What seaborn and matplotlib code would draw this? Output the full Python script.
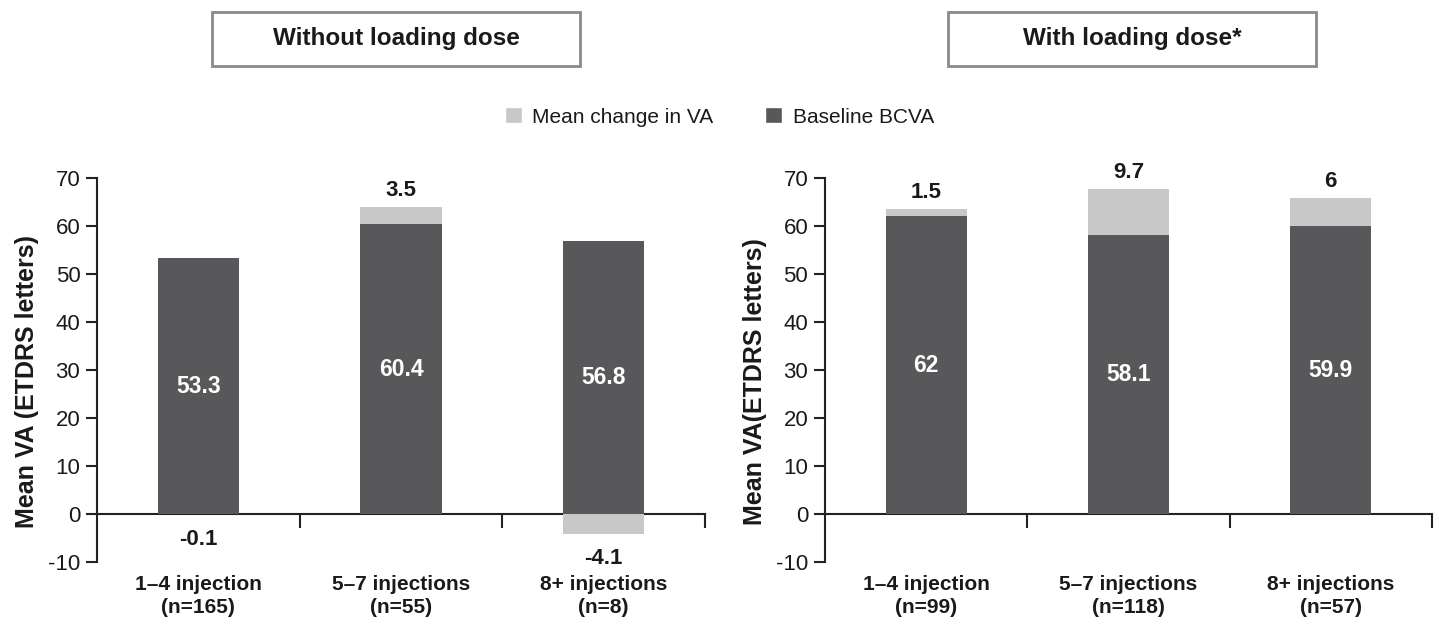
import matplotlib
matplotlib.use('Agg')
import matplotlib.pyplot as plt
from matplotlib.patches import Rectangle, Patch
import seaborn as sns
import pandas as pd

# data
left_labels = ['1–4 injection\n(n=165)', '5–7 injections\n(n=55)', '8+ injections\n(n=8)']
left_baseline = [53.3, 60.4, 56.8]
left_change = [-0.1, 3.5, -4.1]

right_labels = ['1–4 injection\n(n=99)', '5–7 injections\n(n=118)', '8+ injections\n(n=57)']
right_baseline = [62, 58.1, 59.9]
right_change = [1.5, 9.7, 6]

titles = ['Without loading dose', 'With loading dose*']
ylabels = ['Mean VA (ETDRS letters)', 'Mean VA(ETDRS letters)']

dark = '#58585a'
light = '#c8c8c8'
txt = '#1a1a1a'

sns.set_style('white')
plt.rcParams['font.family'] = ['Liberation Sans', 'DejaVu Sans']
plt.rcParams['axes.unicode_minus'] = False

fig = plt.figure(figsize=(14.39, 6.26), dpi=100)
ax_l = fig.add_axes([0.0674, 0.1022, 0.4225, 0.6135])
ax_r = fig.add_axes([0.5733, 0.1022, 0.4217, 0.6135])


def draw_panel(ax, labels, baseline, change, ylabel):
    df = pd.DataFrame({'group': labels, 'baseline': baseline, 'change': change})
    # light part: stacked on top when positive, hanging below zero when negative
    df['light_top'] = [b + c if c > 0 else c for b, c in zip(df['baseline'], df['change'])]
    sns.barplot(data=df, x='group', y='light_top', order=labels, color=light,
                width=0.4, saturation=1, linewidth=0, ax=ax)
    sns.barplot(data=df, x='group', y='baseline', order=labels, color=dark,
                width=0.4, saturation=1, linewidth=0, ax=ax)

    for i, (b, c) in enumerate(zip(baseline, change)):
        ax.text(i, b / 2, f'{b:g}', ha='center', va='center', color='white',
                fontsize=16.5, fontweight='bold')
        if c > 0:
            ax.text(i, b + c + 1.2, f'{c:g}', ha='center', va='bottom', color=txt,
                    fontsize=16, fontweight='bold')
        else:
            ax.text(i, min(c, 0) - 3.0, f'{c:g}', ha='center', va='top', color=txt,
                    fontsize=16, fontweight='bold')

    ax.set_xlim(-0.5, 2.5)
    ax.set_ylim(-10, 70)
    ax.set_yticks(range(-10, 71, 10))
    ax.set_xlabel('')
    ax.set_ylabel(ylabel, fontsize=18, fontweight='bold', color=txt)
    ax.yaxis.set_label_coords(-0.095, 0.47)
    for s in ['top', 'right', 'bottom']:
        ax.spines[s].set_visible(False)
    ax.spines['left'].set_color('#222222')
    ax.spines['left'].set_linewidth(1.5)
    ax.tick_params(axis='y', direction='out', length=8, width=1.5, color='#222222',
                   labelsize=16, labelcolor=txt, left=True, pad=4)
    ax.tick_params(axis='x', length=0, labelsize=15, labelcolor=txt, pad=9)
    for t in ax.get_xticklabels():
        t.set_fontweight('bold')
        t.set_linespacing(1.3)

    # axis line at zero with category separators
    sec = ax.secondary_xaxis(10 / 80)
    sec.set_xticks([0.5, 1.5, 2.5])
    sec.set_xticklabels(['', '', ''])
    sec.spines['bottom'].set_color('#222222')
    sec.spines['bottom'].set_linewidth(1.5)
    sec.tick_params(direction='out', length=10, width=1.5, color='#222222')


draw_panel(ax_l, left_labels, left_baseline, left_change, ylabels[0])
draw_panel(ax_r, right_labels, right_baseline, right_change, ylabels[1])

# boxed panel titles
for x0, title in zip([0.1473, 0.6588], titles):
    fig.patches.append(Rectangle((x0, 0.8946), 0.2557, 0.0862, transform=fig.transFigure,
                                 facecolor='white', edgecolor='#8a8a8a', linewidth=2))
    fig.text(x0 + 0.2557 / 2, 0.8946 + 0.0862 / 2, title, ha='center', va='center',
             fontsize=17.5, fontweight='bold', color=txt)

handles = [Patch(facecolor=light, label='Mean change in VA'),
           Patch(facecolor=dark, label='Baseline BCVA')]
fig.legend(handles=handles, loc='center', bbox_to_anchor=(0.5, 0.813), ncol=2,
           frameon=False, fontsize=15, handlelength=0.8, handleheight=0.8,
           handletextpad=0.5, columnspacing=2.5, labelcolor=txt)

fig.savefig('out.png', dpi=100, facecolor='white')
